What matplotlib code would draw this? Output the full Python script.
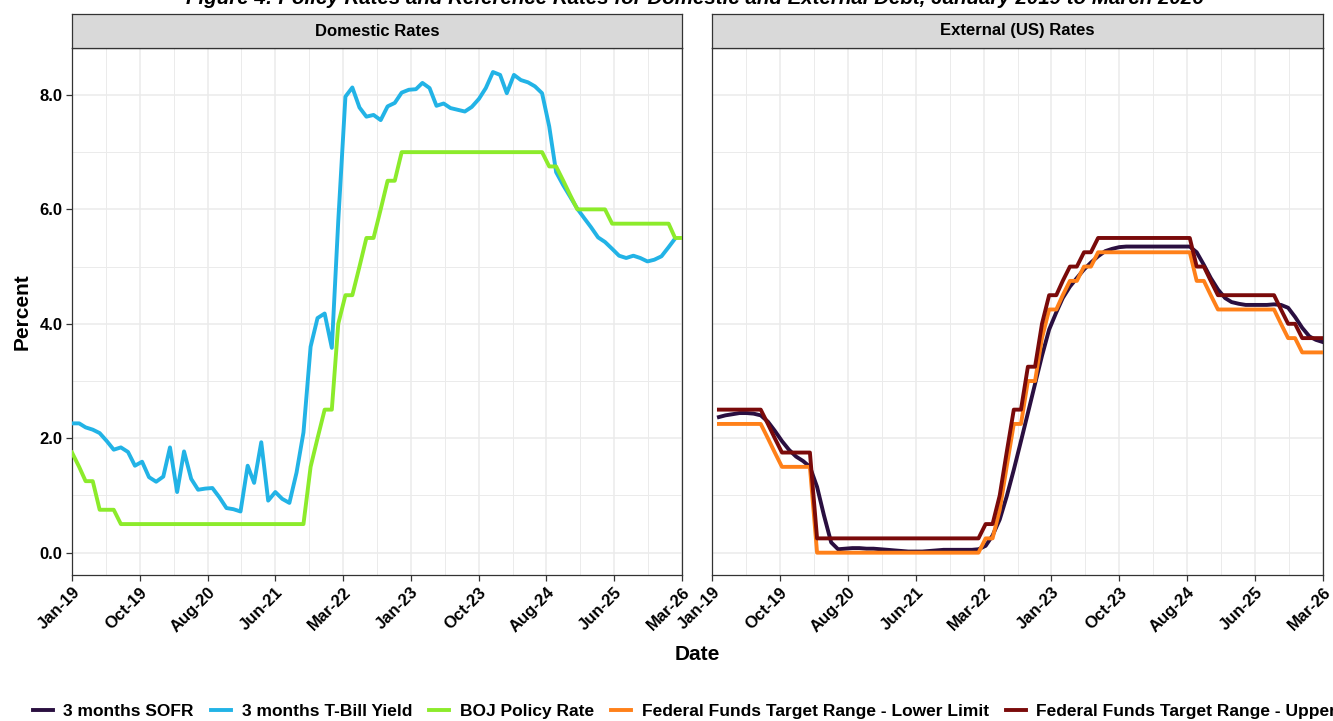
import numpy as np
import pandas as pd
import matplotlib
matplotlib.use("Agg")
import matplotlib.pyplot as plt
from matplotlib.lines import Line2D

plt.rcParams["font.family"] = ["Liberation Sans", "DejaVu Sans"]
plt.rcParams["font.weight"] = "bold"

# ---- data (monthly) ----
# domestic series are dated the first of each month from Jan-2019
tbill_3m = [2.26, 2.26, 2.19, 2.15, 2.09, 1.95, 1.80, 1.84, 1.76, 1.52,
            1.59, 1.32, 1.24, 1.33, 1.84, 1.06, 1.77, 1.29, 1.10, 1.12,
            1.13, 0.97, 0.78, 0.76, 0.72, 1.52, 1.22, 1.93, 0.91, 1.06,
            0.94, 0.87, 1.40, 2.10, 3.60, 4.10, 4.18, 3.58, 5.80, 7.97,
            8.13, 7.78, 7.62, 7.65, 7.56, 7.80, 7.86, 8.04, 8.09, 8.10,
            8.21, 8.12, 7.81, 7.85, 7.77, 7.74, 7.71, 7.79, 7.93, 8.12,
            8.40, 8.35, 8.03, 8.35, 8.26, 8.22, 8.15, 8.03, 7.45, 6.65,
            6.42, 6.22, 6.01, 5.84, 5.69, 5.51, 5.43, 5.31, 5.19, 5.15,
            5.19, 5.15, 5.09, 5.12, 5.18, 5.34, 5.49]
boj_policy = ([1.75, 1.5, 1.25, 1.25, 0.75, 0.75, 0.75] + [0.5] * 27 +
              [1.5, 2.0, 2.5, 2.5, 4.0, 4.5, 4.5, 5.0, 5.5, 5.5, 6.0, 6.5, 6.5] +
              [7.0] * 21 + [6.75, 6.75, 6.5, 6.25] + [6.0] * 5 + [5.75] * 9 +
              [5.5, 5.5])

# US series are month-end values from Jan-2019 to Mar-2026
sofr_3m = [2.37, 2.40, 2.42, 2.44, 2.44, 2.43, 2.40, 2.29, 2.13, 1.95,
           1.80, 1.68, 1.60, 1.50, 1.15, 0.65, 0.18, 0.06, 0.07, 0.08,
           0.08, 0.07, 0.07, 0.06, 0.05, 0.04, 0.03, 0.02, 0.02, 0.02,
           0.03, 0.04, 0.05, 0.05, 0.05, 0.05, 0.05, 0.06, 0.12, 0.30,
           0.58, 0.98, 1.45, 1.95, 2.44, 2.95, 3.44, 3.90, 4.20, 4.45,
           4.65, 4.80, 4.95, 5.07, 5.18, 5.27, 5.31, 5.34] + [5.35] * 10 + \
          [5.25, 5.03, 4.80, 4.60, 4.45, 4.38, 4.35, 4.33, 4.33, 4.33,
           4.33, 4.34, 4.33, 4.28, 4.12, 3.93, 3.78, 3.72, 3.68]
ff_upper = ([2.5] * 7 + [2.25, 2.0] + [1.75] * 5 + [0.25] * 24 + [0.5, 0.5, 1.0, 1.75] +
            [2.5, 2.5, 3.25, 3.25, 4.0, 4.5, 4.5, 4.75, 5.0, 5.0, 5.25, 5.25] +
            [5.5] * 14 + [5.0, 5.0, 4.75] + [4.5] * 9 + [4.25, 4.0, 4.0] + [3.75] * 4)
ff_lower = ([2.25] * 7 + [2.0, 1.75] + [1.5] * 5 + [0.0] * 24 + [0.25, 0.25, 0.75, 1.5] +
            [2.25, 2.25, 3.0, 3.0, 3.75, 4.25, 4.25, 4.5, 4.75, 4.75, 5.0, 5.0] +
            [5.25] * 14 + [4.75, 4.75, 4.5] + [4.25] * 9 + [4.0, 3.75, 3.75] + [3.5] * 4)

series_names = ["3 months SOFR", "3 months T-Bill Yield", "BOJ Policy Rate",
                "Federal Funds Target Range - Lower Limit",
                "Federal Funds Target Range - Upper Limit"]
tick_labels = ["Jan-19", "Oct-19", "Aug-20", "Jun-21", "Mar-22",
               "Jan-23", "Oct-23", "Aug-24", "Jun-25", "Mar-26"]
y_ticks = [0, 2, 4, 6, 8]

COLORS = {
    "3 months SOFR": "#2A0F40",
    "3 months T-Bill Yield": "#22B3E6",
    "BOJ Policy Rate": "#8CEB2B",
    "Federal Funds Target Range - Lower Limit": "#FF8019",
    "Federal Funds Target Range - Upper Limit": "#7A0A0A",
}

x_start, x_end = pd.Timestamp("2019-01-01"), pd.Timestamp("2026-03-31")
dom_dates = pd.date_range("2019-01-01", periods=len(tbill_3m), freq="MS")
boj_dates = pd.date_range("2019-01-01", periods=len(boj_policy), freq="MS")
us_dates = pd.date_range("2019-01-31", periods=len(sofr_3m), freq="ME")

major = pd.date_range(x_start, x_end, periods=len(tick_labels))
minor = major[:-1] + (major[1:] - major[:-1]) / 2

W, H = 1333, 721
fig = plt.figure(figsize=(W / 100, H / 100), dpi=100)

def box(x0, y0, x1, y1):
    return [x0 / W, 1 - y1 / H, (x1 - x0) / W, (y1 - y0) / H]

LW = 2.8
axL = fig.add_axes(box(72, 48, 682, 575))
axR = fig.add_axes(box(712, 48, 1323, 575), sharey=axL)

axL.plot(dom_dates, tbill_3m, color=COLORS[series_names[1]], lw=LW, zorder=3)
axL.plot(boj_dates, boj_policy, color=COLORS[series_names[2]], lw=LW, zorder=4)
axR.plot(us_dates, sofr_3m, color=COLORS[series_names[0]], lw=LW, zorder=3)
axR.plot(us_dates, ff_lower, color=COLORS[series_names[3]], lw=LW, zorder=4)
axR.plot(us_dates, ff_upper, color=COLORS[series_names[4]], lw=LW, zorder=5)

for ax, strip_title in [(axL, "Domestic Rates"), (axR, "External (US) Rates")]:
    ax.set_xlim(x_start, x_end)
    ax.set_ylim(-0.39, 8.82)
    ax.set_xticks(major)
    ax.set_xticks(minor, minor=True)
    ax.set_xticklabels(tick_labels, rotation=45, ha="right", va="top",
                       rotation_mode="anchor", fontsize=12, fontweight="bold")
    ax.set_yticks(y_ticks)
    ax.set_yticks([1, 3, 5, 7], minor=True)
    ax.grid(True, which="major", color="#EBEBEB", lw=1.1, zorder=0)
    ax.grid(True, which="minor", color="#EBEBEB", lw=0.7, zorder=0)
    ax.tick_params(which="major", length=4, width=0.9, color="#333333", pad=3)
    ax.tick_params(which="minor", length=0)
    for sp in ax.spines.values():
        sp.set_color("#333333")
        sp.set_linewidth(0.9)
    ax.set_axisbelow(True)
    # facet strip
    pos = ax.get_position()
    sax = fig.add_axes([pos.x0, pos.y1, pos.width, 34 / H])
    sax.set_facecolor("#D9D9D9")
    sax.set_xticks([]); sax.set_yticks([])
    for sp in sax.spines.values():
        sp.set_color("#333333")
        sp.set_linewidth(0.9)
    sax.text(0.5, 0.5, strip_title, ha="center", va="center",
             fontsize=12, fontweight="bold", transform=sax.transAxes)

axL.set_yticklabels([f"{v:.1f}" for v in y_ticks], fontsize=12, fontweight="bold")
axR.tick_params(axis="y", which="both", left=False, labelleft=False)

fig.text(22 / W, 1 - 312 / H, "Percent", rotation=90, ha="center", va="center",
         fontsize=15, fontweight="bold")
fig.text(697 / W, 1 - 655 / H, "Date", ha="center", va="center",
         fontsize=15, fontweight="bold")
# the title sits mostly above the frame, as in the source image
fig.text(695 / W, 1 - 4 / H,
         "Figure 4: Policy Rates and Reference Rates for Domestic and External Debt, "
         "January 2019 to March 2026",
         ha="center", va="baseline", fontsize=14.8, fontweight="bold", style="italic")

handles = [Line2D([], [], color=COLORS[n], lw=LW) for n in series_names]
fig.legend(handles, series_names, loc="center left",
           bbox_to_anchor=(33 / W, 1 - 711 / H), ncol=5, frameon=False,
           prop={"size": 12.5, "weight": "bold"}, handlelength=1.15,
           handletextpad=0.6, columnspacing=1.0, borderaxespad=0, borderpad=0)

fig.savefig("out.png", dpi=100)
